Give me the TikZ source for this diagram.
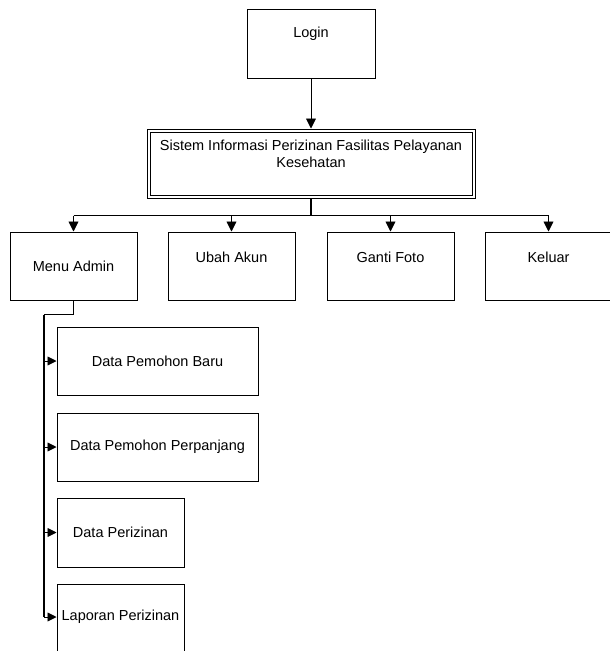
\documentclass[tikz,border=0pt]{standalone}
\usepackage{fontspec}
\setmainfont{Liberation Sans}
\usetikzlibrary{arrows.meta}
\begin{document}
\begin{tikzpicture}[x=1pt,y=-1pt,
  every node/.style={font=\fontsize{14.5}{17}\selectfont, inner sep=0pt},
  box/.style n args={2}{draw, line width=1pt, minimum width=#1pt, minimum height=#2pt},
  txt/.style={align=center},
  wire/.style={line width=0.9pt},
  stem/.style={line width=1.4pt},
  arr/.style={wire, -{Triangle[width=10pt,length=10pt]}},
  sarr/.style={wire, -{Triangle[width=9pt,length=9pt]}}]
\useasboundingbox (0,0) rectangle (610,651);
\clip (0,0) rectangle (610,651);

% top level
\node[box={128}{69}] (login) at (311,43.5) {};
\node[txt] (logint) at (311,34) {Login};

% main system box with a double outline
\node[box={328}{69}] (sis) at (311,163.5) {};
\draw[line width=1pt] ([shift={(3.5,3.5)}]sis.north west) rectangle ([shift={(-3.5,-3.5)}]sis.south east);
\node[txt] (sist) at (311,153.5) {Sistem Informasi Perizinan Fasilitas Pelayanan\\Kesehatan};

% second level
\node[box={127}{68}] (menu) at (73.5,266) {Menu Admin};
\node[box={127}{68}] (ubah) at (231.5,266) {};
\node[txt] (ubaht) at (231.5,257) {Ubah Akun};
\node[box={127}{68}] (ganti) at (390.5,266) {};
\node[txt] (gantit) at (390.5,257) {Ganti Foto};
\node[box={127}{68}] (keluar) at (548.5,266) {};
\node[txt] (keluart) at (548.5,257) {Keluar};

% admin menu items
\node[box={201}{68}] (baru) at (157.5,361) {Data Pemohon Baru};
\node[box={201}{68}] (panjang) at (157.5,447) {Data Pemohon Perpanjang};
\node[box={127}{69}] (izin) at (120.5,532.5) {Data Perizinan};
\node[box={127}{74}] (lapor) at (120.5,621) {};
\node[txt] (laport) at (120.5,617) {Laporan Perizinan};

% connectors
\draw[arr] (login.south) -- (sis.north);
\coordinate (bus) at (311,215.5);
\draw[stem] (sis.south) -- (bus);
\draw[wire] (menu.north |- bus) -- (keluar.north |- bus);
\foreach \n in {menu,ubah,ganti,keluar}
  \draw[arr] (\n.north |- bus) -- (\n.north);

\coordinate (trunk) at (44,314.5);
\draw[stem] (menu.south) -- (menu.south |- trunk) -- (trunk);
\draw[stem] (trunk) -- (trunk |- laport);
\draw[sarr] (trunk |- laport) -- (lapor.west |- laport);
\foreach \n in {baru,panjang,izin}
  \draw[sarr] (trunk |- \n) -- (\n.west);
\end{tikzpicture}
\end{document}
